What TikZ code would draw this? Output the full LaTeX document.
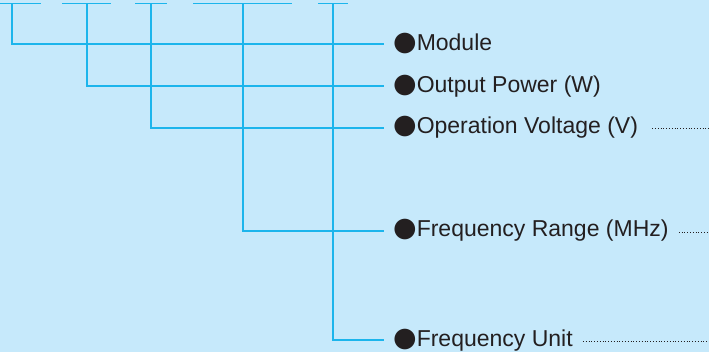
\documentclass[tikz,border=0pt]{standalone}
\usepackage{fontspec}
\setmainfont{Liberation Sans}
\newfontfamily\dotfont{DejaVu Sans}
\usetikzlibrary{calc}
\definecolor{codebg}{HTML}{C6E9FB}
\definecolor{codeline}{HTML}{1CB5EC}
\definecolor{codetext}{HTML}{231F20}
\newcommand{\blt}{{\dotfont\fontsize{27}{27}\selectfont ●}}

\begin{document}
\begin{tikzpicture}[x=1pt,y=-1pt,
    tree/.style={draw=codeline,line width=1.3pt},
    fieldname/.style={anchor=base west,inner sep=0pt,text=codetext,
      font=\fontsize{23}{27}\selectfont},
    leader/.style={draw=codetext,line width=0.9pt,dash pattern=on 0.9pt off 1.9pt}]
    \path[fill=codebg,use as bounding box] (0,0) rectangle (709,352);
    \draw[tree] (0,3.7) -- (41,3.7) (62,3.7) -- (111,3.7) (135,3.7) -- (167,3.7)
      (193,3.7) -- (292,3.7) (318,3.7) -- (348,3.7);
    \coordinate (t1) at (12,3.7);
    \coordinate (t2) at (87,3.7);
    \coordinate (t3) at (151,3.7);
    \coordinate (t4) at (243,3.7);
    \coordinate (t5) at (333,3.7);
    \coordinate (m1) at (384,44);
    \coordinate (m2) at (384,86);
    \coordinate (m3) at (384,128);
    \coordinate (m4) at (384,231);
    \coordinate (m5) at (384,340);
    \node[fieldname] (module) at ([xshift=9pt,yshift=-7pt]m1) {\blt Module};
    \node[fieldname] (power) at ([xshift=9pt,yshift=-7pt]m2) {\blt Output Power (W)};
    \node[fieldname] (voltage) at ([xshift=9pt,yshift=-6pt]m3) {\blt Operation Voltage (V)};
    \node[fieldname] (range) at ([xshift=9pt,yshift=-6pt]m4) {\blt Frequency Range (MHz)};
    \node[fieldname] (unit) at ([xshift=9pt,yshift=-6pt]m5) {\blt Frequency Unit};
    \draw[tree] (t1) |- (m1);
    \draw[tree] (t2) |- (m2);
    \draw[tree] (t3) |- (m3);
    \draw[tree] (t4) |- (m4);
    \draw[tree] (t5) |- (m5);
    \coordinate (e3) at (709,128);
    \coordinate (e4) at (709,232);
    \coordinate (e5) at (709,341);
    \draw[leader] ([xshift=14pt]voltage.east |- e3) -- (e3);
    \draw[leader] ([xshift=10pt]range.east |- e4) -- (e4);
    \draw[leader] ([xshift=10pt]unit.east |- e5) -- (e5);
  \end{tikzpicture}
\end{document}
